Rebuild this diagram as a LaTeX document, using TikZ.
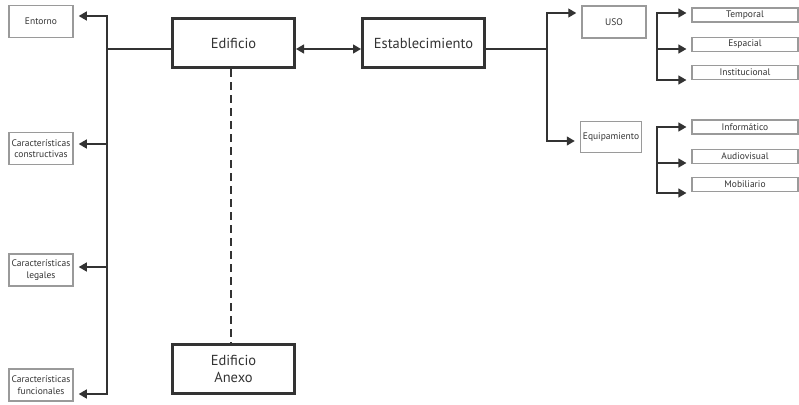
\documentclass[tikz,border=0pt]{standalone}
\usepackage{fontspec}
\setmainfont{PT Sans}
\usetikzlibrary{arrows.meta}
\definecolor{linegray}{HTML}{333333}
\definecolor{boxgray}{HTML}{9A9A9A}

\begin{document}
\begin{tikzpicture}[x=1pt,y=-1pt,
    bigbox/.style={draw=linegray,line width=3pt,minimum width=122pt,minimum height=49pt,
        font=\fontsize{14.5}{17}\selectfont,text=linegray,align=center,inner sep=2pt},
    smallbox/.style={draw=boxgray,line width=1.5pt,minimum width=64pt,minimum height=32pt,
        font=\fontsize{9.5}{11.5}\selectfont,text=linegray,align=center,inner sep=1pt},
    flatbox/.style={draw=boxgray,line width=1.2pt,minimum width=106pt,minimum height=14pt,
        font=\fontsize{9.5}{10}\selectfont,text=linegray,inner sep=1pt},
    link/.style={draw=linegray,line width=1.3pt,line cap=rect},
    arr/.style={link,-{Triangle[length=8pt,width=9pt]},shorten >=5pt}]
    \useasboundingbox (0,0) rectangle (799,404);

    \node[smallbox] (entorno) at (41,21.5) {Entorno};
    \node[smallbox] (constr) at (41,148.5) {Características\\constructivas};
    \node[smallbox] (legal) at (41,270) {Características\\legales};
    \node[smallbox] (func) at (41,385) {Características\\funcionales};

    \node[bigbox] (edif) at (233.5,43) {Edificio};
    \node[bigbox] (estab) at (423.5,43) {Establecimiento};
    \node[bigbox] (anexo) at (233.5,368.5) {Edificio\\Anexo};

    \node[smallbox] (uso) at (614,22) {USO};
    \node[smallbox,minimum width=61pt,minimum height=31pt] (equip) at (611,137) {Equipamiento};

    \node[flatbox] (temp) at (745,15) {Temporal};
    \node[flatbox] (espac) at (745,44.5) {Espacial};
    \node[flatbox] (instit) at (745,72.5) {Institucional};
    \node[flatbox] (inform) at (745,127) {Informático};
    \node[flatbox] (audio) at (745,156.5) {Audiovisual};
    \node[flatbox] (mobil) at (745,184.5) {Mobiliario};

    \coordinate (t1) at (107,16);
    \coordinate (t2) at (107,144);
    \coordinate (t3) at (107,267);
    \coordinate (t4) at (107,394);
    \coordinate (tj) at (107,49);
    \draw[link] (t1) -- (t4);
    \draw[link] (edif.west |- tj) -- (tj);
    \draw[arr] (t1) -- (t1 -| entorno.east);
    \draw[arr] (t2) -- (t2 -| constr.east);
    \draw[arr] (t3) -- (t3 -| legal.east);
    \draw[arr] (t4) -- (t4 -| func.east);

    \coordinate (mid) at (328,49);
    \draw[link,{Triangle[length=8pt,width=9pt]}-{Triangle[length=8pt,width=9pt]}] (edif.east |- mid) -- (estab.west |- mid);

    \coordinate (dash) at (231,0);
    \draw[link,line cap=butt,line width=2pt,dash pattern=on 8pt off 5pt] (edif.south -| dash) -- (anexo.north -| dash);

    \coordinate (r0) at (547,49);
    \coordinate (r1) at (547,13);
    \coordinate (r2) at (547,141);
    \draw[link] (estab.east |- r0) -- (r0);
    \draw[link] (r1) -- (r2);
    \draw[arr] (r1) -- (r1 -| uso.west);
    \draw[arr] (r2) -- (r2 -| equip.west);

    \coordinate (u1) at (657,13);
    \coordinate (u2) at (657,49);
    \coordinate (u3) at (657,80);
    \draw[link] (u1) -- (u3);
    \draw[arr] (u1) -- (u1 -| temp.west);
    \draw[arr] (u2) -- (u2 -| espac.west);
    \draw[arr] (u3) -- (u3 -| instit.west);

    \coordinate (q1) at (657,127);
    \coordinate (q2) at (657,163);
    \coordinate (q3) at (657,193);
    \draw[link] (q1) -- (q3);
    \draw[arr] (q1) -- (q1 -| inform.west);
    \draw[arr] (q2) -- (q2 -| audio.west);
    \draw[arr] (q3) -- (q3 -| mobil.west);
\end{tikzpicture}
\end{document}
